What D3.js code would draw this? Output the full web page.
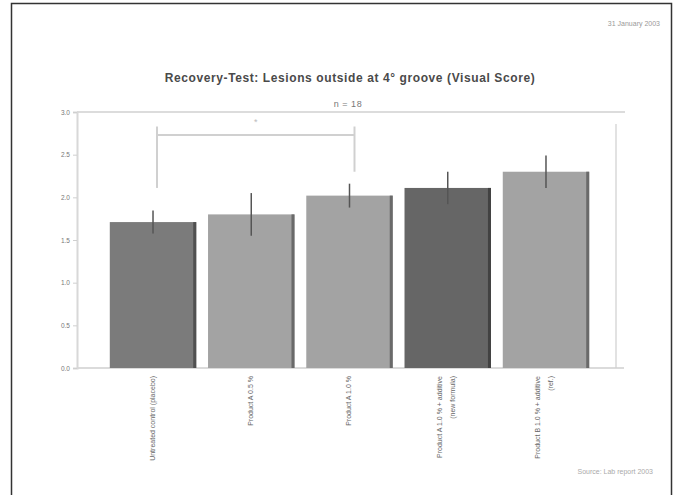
<!DOCTYPE html>
<html><head><meta charset="utf-8">
<script src="https://cdn.jsdelivr.net/npm/d3@7/dist/d3.min.js"></script>
<style>body{margin:0;background:#fff}svg{display:block;font-family:"Liberation Sans",Arial,sans-serif}</style>
</head><body>
<script>
const categories = ["Untreated control (placebo)", "Product A 0.5 %", "Product A 1.0 %", "Product A 1.0 % + additive|(new formula)", "Product B 1.0 % + additive|(ref.)"];
const values = [1.71, 1.80, 2.02, 2.11, 2.30];
const errors = [0.135, 0.25, 0.14, 0.19, 0.19];
const barColors = ["#7b7b7b", "#a3a3a3", "#a3a3a3", "#666666", "#a3a3a3"];
const yTicks = [0, 0.5, 1, 1.5, 2, 2.5, 3];
const yTickLabels = ["0.0", "0.5", "1.0", "1.5", "2.0", "2.5", "3.0"];
const title = "Recovery-Test: Lesions outside at 4° groove (Visual Score)";
const subtitle = "n = 18";
const dateText = "31 January 2003";
const footText = "Source: Lab report 2003";
const bracket = {from: 0, to: 2, level: 2.73, top: 2.83, leftEnd: 2.11, rightEnd: 2.30, mark: "*"};

const W = 679, H = 495;
const svg = d3.select("body").append("svg").attr("width", W).attr("height", H);
svg.append("rect").attr("x", 11.5).attr("y", 3.5).attr("width", 660).attr("height", 495)
  .attr("fill", "#fff").attr("stroke", "#333").attr("stroke-width", 1.5);

const m = {left: 77, right: 616, top: 112, bottom: 368};
const x = d3.scaleBand().domain(categories).range([m.left + 21, m.right - 15]).paddingInner(0.12).paddingOuter(0.12);
const y = d3.scaleLinear().domain([0, 3]).range([m.bottom, m.top]);

// plot frame
svg.append("line").attr("x1", m.left).attr("x2", 625).attr("y1", m.top).attr("y2", m.top).attr("stroke", "#dcdcdc").attr("stroke-width", 2);
svg.append("line").attr("x1", m.right).attr("x2", m.right).attr("y1", m.top + 12).attr("y2", m.bottom).attr("stroke", "#e2e2e2").attr("stroke-width", 2);
svg.append("line").attr("x1", m.left).attr("x2", m.right + 8).attr("y1", m.bottom).attr("y2", m.bottom).attr("stroke", "#cfcfcf").attr("stroke-width", 1.5);

const yAxis = d3.axisLeft(y).tickValues(yTicks).tickFormat((d, i) => yTickLabels[i]).tickSize(4).tickPadding(3);
const ga = svg.append("g").attr("transform", `translate(${m.left},0)`).call(yAxis);
ga.select(".domain").attr("stroke", "#d8d8d8").attr("stroke-width", 2);
ga.selectAll(".tick line").attr("stroke", "#cfcfcf");
ga.selectAll("text").attr("fill", "#777").style("font-size", "6.5px");

// bars
const bars = svg.append("g");
categories.forEach((c, i) => {
  const x0 = x(c), bw = x.bandwidth();
  bars.append("rect").attr("x", x0).attr("y", y(values[i])).attr("width", bw).attr("height", y(0) - y(values[i]))
    .attr("fill", barColors[i]);
  bars.append("rect").attr("x", x0 + bw - 3).attr("y", y(values[i])).attr("width", 3).attr("height", y(0) - y(values[i]))
    .attr("fill", d3.color(barColors[i]).darker(1.2));
  const cx = x0 + bw / 2;
  bars.append("line").attr("x1", cx).attr("x2", cx).attr("y1", y(values[i] + errors[i])).attr("y2", y(values[i] - errors[i]))
    .attr("stroke", "#555").attr("stroke-width", 1.5);
});

// significance bracket
const bx1 = x(categories[bracket.from]) + x.bandwidth() / 2 + 4, bx2 = x(categories[bracket.to]) + x.bandwidth() / 2 + 5;
const br = svg.append("g").attr("stroke", "#d0d0d0").attr("stroke-width", 2).attr("fill", "none");
br.append("line").attr("x1", bx1).attr("x2", bx1).attr("y1", y(bracket.top)).attr("y2", y(bracket.leftEnd));
br.append("line").attr("x1", bx2).attr("x2", bx2).attr("y1", y(bracket.top)).attr("y2", y(bracket.rightEnd));
br.append("line").attr("x1", bx1).attr("x2", bx2).attr("y1", y(bracket.level)).attr("y2", y(bracket.level));
svg.append("text").attr("x", (bx1 + bx2) / 2).attr("y", y(bracket.level) - 10).attr("text-anchor", "middle")
  .attr("fill", "#bbb").style("font-size", "9px").text(bracket.mark);

// x labels
categories.forEach((c, i) => {
  const lines = c.split("|");
  const cx = x(c) + x.bandwidth() / 2;
  const t = svg.append("text").attr("transform", `translate(${cx},376) rotate(-90)`)
    .attr("text-anchor", "end").attr("fill", "#666").style("font-size", "7px");
  lines.forEach((l, j) => {
    const off = lines.length === 1 ? 1.5 : (j === 0 ? -5.5 : 7.5);
    t.append("tspan").attr("x", 0).attr("y", off).text(l);
  });
});

// titles
svg.append("text").attr("x", 350).attr("y", 82).attr("text-anchor", "middle").attr("fill", "#4a4a4a")
  .style("font-size", "12px").style("font-weight", "bold").style("letter-spacing", "0.6px").text(title);
svg.append("text").attr("x", 348).attr("y", 107).attr("text-anchor", "middle").attr("fill", "#777")
  .style("font-size", "9px").style("letter-spacing", "0.5px").text(subtitle);
svg.append("text").attr("x", 660).attr("y", 26).attr("text-anchor", "end").attr("fill", "#999")
  .style("font-size", "7px").text(dateText);
svg.append("text").attr("x", 653).attr("y", 474).attr("text-anchor", "end").attr("fill", "#aaa")
  .style("font-size", "7px").text(footText);
</script>
</body></html>
